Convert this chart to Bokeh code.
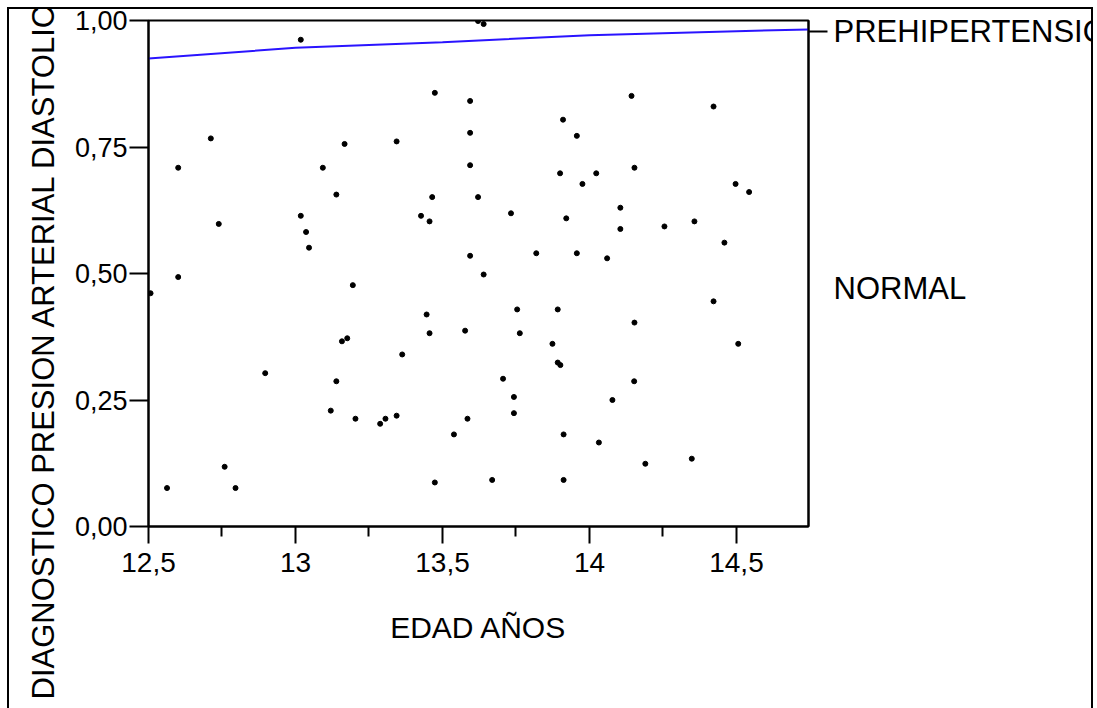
import math
from bokeh.plotting import figure
from bokeh.models import FixedTicker, LinearAxis, Label, Range1d, Title
from bokeh.embed import file_html
from bokeh.resources import INLINE

# ---- data ----
edad = [13.018, 13.621, 13.640, 13.474, 13.594, 12.712, 13.167, 13.344, 13.594, 12.601,
        13.093, 13.594, 13.139, 13.465, 13.621, 13.018, 13.427, 13.456, 12.739, 13.036,
        13.046, 13.594, 12.601, 14.143, 14.422, 13.910, 13.957, 13.900, 14.023, 14.153,
        13.976, 14.497, 14.543, 13.733, 13.921, 14.105, 14.105, 14.255, 14.357, 14.459,
        13.819, 13.957, 14.060, 13.640, 12.507, 13.195, 12.897, 13.446, 13.456, 13.577,
        13.158, 13.176, 13.363, 13.139, 13.120, 13.204, 13.288, 13.306, 13.344, 13.585,
        13.539, 13.474, 12.563, 12.759, 12.796, 13.754, 13.892, 14.422, 14.153, 13.763,
        13.874, 14.506, 13.892, 13.901, 13.706, 14.152, 13.743, 14.078, 13.743, 13.912,
        14.032, 14.190, 14.348, 13.669, 13.912]
diag = [0.962, 0.999, 0.993, 0.857, 0.841, 0.767, 0.756, 0.761, 0.778, 0.709,
        0.709, 0.714, 0.656, 0.651, 0.651, 0.614, 0.614, 0.603, 0.598, 0.582,
        0.551, 0.535, 0.493, 0.851, 0.830, 0.804, 0.772, 0.698, 0.698, 0.709,
        0.677, 0.677, 0.661, 0.619, 0.609, 0.630, 0.588, 0.593, 0.603, 0.561,
        0.540, 0.540, 0.530, 0.498, 0.461, 0.477, 0.303, 0.419, 0.382, 0.387,
        0.366, 0.372, 0.340, 0.287, 0.229, 0.213, 0.203, 0.213, 0.219, 0.213,
        0.182, 0.087, 0.076, 0.118, 0.076, 0.429, 0.429, 0.445, 0.403, 0.382,
        0.361, 0.361, 0.324, 0.319, 0.292, 0.287, 0.256, 0.250, 0.224, 0.182,
        0.166, 0.124, 0.134, 0.092, 0.092]

fit_x = [12.5, 13.0, 13.5, 14.0, 14.5, 14.745]
fit_y = [0.925, 0.946, 0.957, 0.971, 0.979, 0.982]

x_ticks = [12.5, 13.0, 13.5, 14.0, 14.5]
x_tick_labels = ["12,5", "13", "13,5", "14", "14,5"]
x_minor = [12.75, 13.25, 13.75, 14.25, 14.75]
y_ticks = [0.0, 0.25, 0.5, 0.75, 1.0]
y_tick_labels = ["0,00", "0,25", "0,50", "0,75", "1,00"]
right_labels = ["PREHIPERTENSION", "NORMAL"]
right_pos = [0.978, 0.47]

FONT = "Liberation Sans"

p = figure(width=1086, height=730, output_backend="svg", toolbar_location=None,
           x_range=Range1d(12.5, 14.745), y_range=Range1d(0, 1),
           min_border_left=139, min_border_right=287, min_border_top=11, min_border_bottom=213,
           margin=(7, 0, 0, 7),
           styles={"border": "2px solid black"})
p.grid.visible = False
p.outline_line_color = "black"
p.outline_line_width = 2
p.background_fill_color = "white"
p.border_fill_color = "white"

# x axis
xa = p.xaxis[0]
xa.ticker = FixedTicker(ticks=x_ticks, minor_ticks=x_minor)
xa.major_label_overrides = {t: l for t, l in zip(x_ticks, x_tick_labels)}
xa.axis_label = "EDAD AÑOS"
xa.axis_label_text_font = FONT
xa.axis_label_text_font_style = "normal"
xa.axis_label_text_font_size = "30px"
xa.axis_label_text_color = "black"
xa.axis_label_standoff = 36
xa.major_label_text_font = FONT
xa.major_label_text_font_size = "28px"
xa.major_label_text_color = "black"
xa.major_label_standoff = 9
xa.major_tick_out = 17
xa.major_tick_in = 0
xa.minor_tick_out = 10
xa.minor_tick_in = 0
xa.axis_line_width = 2
xa.major_tick_line_width = 2
xa.minor_tick_line_width = 2

# y axis
ya = p.yaxis[0]
ya.ticker = FixedTicker(ticks=y_ticks, minor_ticks=[])
ya.major_label_overrides = {t: l for t, l in zip(y_ticks, y_tick_labels)}
ya.major_label_text_font = FONT
ya.major_label_text_font_size = "27px"
ya.major_label_text_color = "black"
ya.major_label_standoff = 2
ya.major_tick_out = 19
ya.major_tick_in = 0
ya.axis_line_width = 2
ya.major_tick_line_width = 2

# right axis (tick only)
ra = LinearAxis(ticker=FixedTicker(ticks=[right_pos[0]], minor_ticks=[]),
                major_label_overrides={right_pos[0]: ""},
                major_label_text_font_size="1px",
                major_tick_out=19, major_tick_in=0, major_tick_line_width=2,
                axis_line_width=2)
p.add_layout(ra, "right")

# data
p.scatter(edad, diag, marker="circle", size=5, color="black")
p.line(fit_x, fit_y, line_color="#2a14ff", line_width=2)

# right-hand category labels; kept in the (roomy) bottom side panel so they are
# neither clipped to the frame nor widen the right panel
for txt, yv in zip(right_labels, right_pos):
    p.add_layout(Label(x=14.745, y=yv, x_offset=25, text=txt, text_font=FONT,
                       text_font_size="31px", text_baseline="middle", text_align="left",
                       text_color="black"), "below")

# y label as a left-side title, starting below the frame
p.add_layout(Title(text="DIAGNOSTICO PRESION ARTERIAL DIASTOLICA", align="left",
                   offset=-173, standoff=21, text_font=FONT, text_font_size="31px",
                   text_font_style="normal", text_color="black"), "left")

open("out.html", "w").write(file_html(p, INLINE))
